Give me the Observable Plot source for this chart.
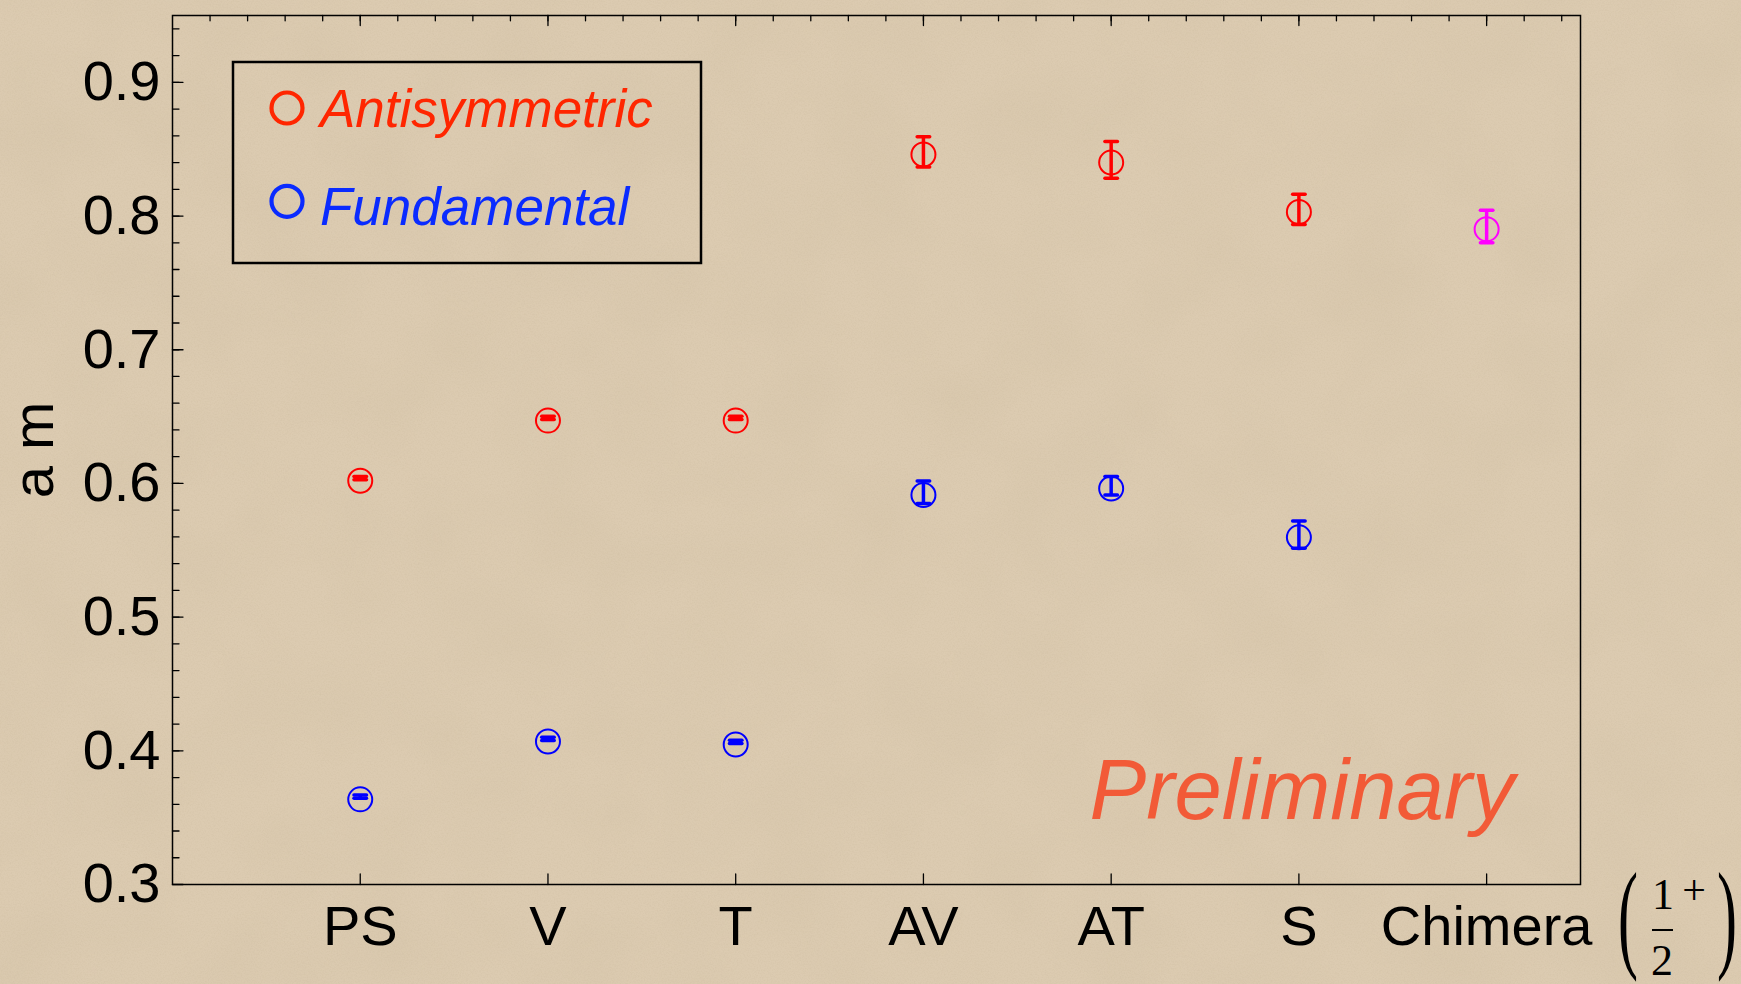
<!DOCTYPE html>
<html><head><meta charset="utf-8">
<script src="https://cdn.jsdelivr.net/npm/d3@7"></script>
<script src="https://cdn.jsdelivr.net/npm/@observablehq/plot@0.6"></script>
<style>
html,body{margin:0;padding:0;background:#dccbb1;}
#chart{width:1741px;height:984px;overflow:hidden;}
svg{display:block;}
</style></head><body><div id="chart"></div>
<script>
// ---- data ----
const categories = ["PS", "V", "T", "AV", "AT", "S", "Chimera"];
const antisymmetricMass  = [0.604, 0.649, 0.649, 0.848, 0.842, 0.805];
const antisymmetricError = [0.0012, 0.0012, 0.0012, 0.0113, 0.0137, 0.0113];
const fundamentalMass    = [0.3657, 0.409, 0.4067, 0.5934, 0.5982, 0.5617];
const fundamentalError   = [0.0012, 0.0012, 0.0012, 0.0084, 0.0069, 0.0101];
const chimeraMass  = [0.7922];
const chimeraError = [0.0121];
const seriesNames  = ["Antisymmetric", "Fundamental", "Chimera"];
const seriesColors = ["#ff0000", "#0000ff", "#ff00ff"];
const legendColors = ["#ff2600", "#0a2bff"];
const yTickValues = [0.3, 0.4, 0.5, 0.6, 0.7, 0.8, 0.9];
const yAxisLabel = "a m";
const watermark = "Preliminary";

// ---- table ----
const rows = [];
antisymmetricMass.forEach((m, i) => rows.push({pos: i + 1, series: seriesNames[0], color: seriesColors[0], m, e: antisymmetricError[i]}));
fundamentalMass.forEach((m, i) => rows.push({pos: i + 1, series: seriesNames[1], color: seriesColors[1], m, e: fundamentalError[i]}));
chimeraMass.forEach((m, i) => rows.push({pos: categories.indexOf("Chimera") + 1, series: seriesNames[2], color: seriesColors[2], m, e: chimeraError[i]}));

const xMajor = categories.map((c, i) => i + 1);
const xMinor = d3.range(1, 38).map(i => i / 5);
const yMinor = d3.range(16, 48).map(i => i / 50);

const lineShape = {draw(ctx, l) { ctx.moveTo(0, 0); ctx.lineTo(0, -l); }};
const FONT = "'Liberation Sans', Arial, Helvetica, sans-serif";

function paperMark(index, scales, values, dim) {
  const g = d3.create("svg:g");
  const defs = g.append("defs");
  const f = defs.append("filter").attr("id", "paper-noise").attr("x", 0).attr("y", 0).attr("width", "100%").attr("height", "100%");
  f.append("feTurbulence").attr("type", "fractalNoise").attr("baseFrequency", 0.7).attr("numOctaves", 3).attr("seed", 7);
  f.append("feColorMatrix").attr("type", "matrix")
    .attr("values", "0 0 0 0 0.55  0 0 0 0 0.45  0 0 0 0 0.3  1.4 0 0 0 -0.55");
  const f2 = defs.append("filter").attr("id", "paper-blot").attr("x", 0).attr("y", 0).attr("width", "100%").attr("height", "100%");
  f2.append("feTurbulence").attr("type", "fractalNoise").attr("baseFrequency", 0.012).attr("numOctaves", 2).attr("seed", 2);
  f2.append("feColorMatrix").attr("type", "matrix")
    .attr("values", "0 0 0 0 0.6  0 0 0 0 0.5  0 0 0 0 0.35  1.2 0 0 0 -0.45");
  g.append("rect").attr("width", dim.width).attr("height", dim.height).attr("filter", "url(#paper-blot)").attr("opacity", 0.3);
  g.append("rect").attr("width", dim.width).attr("height", dim.height).attr("filter", "url(#paper-noise)").attr("opacity", 0.3);
  return g.node();
}

function legendMark(index, scales, values, dim) {
  const g = d3.create("svg:g").attr("text-anchor", "start");
  const x0 = dim.marginLeft + 61, y0 = dim.marginTop + 47;
  g.append("rect").attr("x", x0).attr("y", y0).attr("width", 468).attr("height", 201)
    .attr("fill", "none").attr("stroke", "#000").attr("stroke-width", 2.5);
  const cys = [46, 139.3], bases = [64.7, 163];
  seriesNames.slice(0, 2).forEach((name, i) => {
    g.append("circle").attr("cx", x0 + 54).attr("cy", y0 + cys[i]).attr("r", 15.5)
      .attr("fill", "none").attr("stroke", legendColors[i]).attr("stroke-width", 4.2);
    g.append("text").attr("x", x0 + 87).attr("y", y0 + bases[i]).text(name)
      .attr("fill", legendColors[i]).attr("font-size", 53).attr("font-style", "italic")
      .attr("font-family", FONT).attr("text-anchor", "start");
  });
  return g.node();
}

function unitMark(index, scales, values, dim) {
  const g = d3.create("svg:g").attr("font-family", "'Liberation Serif', 'DejaVu Serif', serif").attr("fill", "#000");
  const xr = dim.width - dim.marginRight, yb = dim.height - dim.marginBottom;
  g.append("text").attr("transform", `translate(${xr + 48},${yb + 72}) scale(0.5,1)`).attr("font-size", 120).attr("text-anchor", "middle").text("(");
  g.append("text").attr("transform", `translate(${xr + 147},${yb + 72}) scale(0.5,1)`).attr("font-size", 120).attr("text-anchor", "middle").text(")");
  g.append("text").attr("x", xr + 83).attr("y", yb + 25).attr("font-size", 44).attr("text-anchor", "middle").text("1");
  g.append("text").attr("x", xr + 114).attr("y", yb + 20).attr("font-size", 42).attr("text-anchor", "middle").text("+");
  g.append("line").attr("x1", xr + 72).attr("x2", xr + 93).attr("y1", yb + 46).attr("y2", yb + 46).attr("stroke", "#000").attr("stroke-width", 2);
  g.append("text").attr("x", xr + 82).attr("y", yb + 91).attr("font-size", 44).attr("text-anchor", "middle").text("2");
  return g.node();
}

const chart = Plot.plot({
  width: 1741, height: 984,
  marginLeft: 172, marginRight: 161, marginTop: 15, marginBottom: 100,
  x: {type: "linear", domain: [0, 7.5]},
  y: {type: "linear", domain: [0.3, 0.95]},
  color: {type: "identity"},
  style: {background: "transparent", color: "#000", fontFamily: FONT, overflow: "visible"},
  marks: [
    paperMark,
    Plot.frame({stroke: "#000", strokeWidth: 1.5}),
    // inward ticks
    Plot.vector(yMinor, {y: d => d, frameAnchor: "left", rotate: 90, anchor: "start", length: 6.5, shape: lineShape, stroke: "#000", strokeWidth: 1.3}),
    Plot.vector(yTickValues, {y: d => d, frameAnchor: "left", rotate: 90, anchor: "start", length: 10.5, shape: lineShape, stroke: "#000", strokeWidth: 1.3}),
    Plot.vector(xMinor, {x: d => d, frameAnchor: "top", rotate: 180, anchor: "start", length: 5.3, shape: lineShape, stroke: "#000", strokeWidth: 1.3}),
    Plot.vector(xMajor, {x: d => d, frameAnchor: "top", rotate: 180, anchor: "start", length: 10, shape: lineShape, stroke: "#000", strokeWidth: 1.3}),
    Plot.vector(xMajor, {x: d => d, frameAnchor: "bottom", rotate: 0, anchor: "start", length: 10.5, shape: lineShape, stroke: "#000", strokeWidth: 1.3}),
    Plot.axisY(yTickValues, {tickSize: 0, tickPadding: 12, fontSize: 56, tickFormat: d => d.toFixed(1), label: null}),
    Plot.axisX(xMajor, {tickSize: 0, tickPadding: 21, fontSize: 56, tickFormat: i => categories[i - 1], label: null}),
    Plot.text([yAxisLabel], {frameAnchor: "left", rotate: -90, textAnchor: "middle", dx: -138, fontSize: 58, fill: "#000"}),
    Plot.text([watermark], {frameAnchor: "bottom-left", textAnchor: "start", dx: 917, dy: -66, fontSize: 85, fontStyle: "italic", fill: "#f25a37"}),
    // data
    Plot.ruleX(rows, {x: "pos", y1: d => d.m - d.e, y2: d => d.m + d.e, stroke: "color", strokeWidth: 3.5}),
    Plot.vector(rows, {x: "pos", y: d => d.m + d.e, rotate: 90, anchor: "middle", length: 12.5, shape: lineShape, stroke: "color", strokeWidth: 3.5}),
    Plot.vector(rows, {x: "pos", y: d => d.m - d.e, rotate: 90, anchor: "middle", length: 12.5, shape: lineShape, stroke: "color", strokeWidth: 3.5}),
    Plot.dot(rows, {x: "pos", y: "m", r: 12, stroke: "color", strokeWidth: 2, fill: "none", dy: 2.7}),
    legendMark,
    unitMark
  ]
});
document.getElementById("chart").appendChild(chart);
</script></body></html>
